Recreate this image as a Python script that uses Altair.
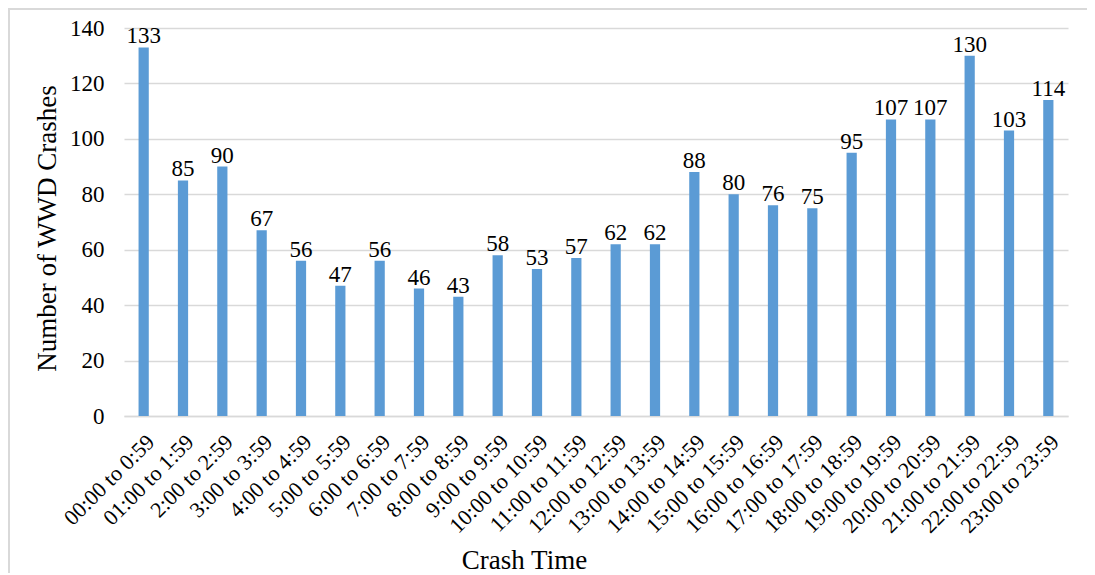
import altair as alt
import pandas as pd

categories = ["00:00 to 0:59", "01:00 to 1:59", "2:00 to 2:59", "3:00 to 3:59", "4:00 to 4:59",
              "5:00 to 5:59", "6:00 to 6:59", "7:00 to 7:59", "8:00 to 8:59", "9:00 to 9:59",
              "10:00 to 10:59", "11:00 to 11:59", "12:00 to 12:59", "13:00 to 13:59",
              "14:00 to 14:59", "15:00 to 15:59", "16:00 to 16:59", "17:00 to 17:59",
              "18:00 to 18:59", "19:00 to 19:59", "20:00 to 20:59", "21:00 to 21:59",
              "22:00 to 22:59", "23:00 to 23:59"]
values = [133, 85, 90, 67, 56, 47, 56, 46, 43, 58, 53, 57, 62, 62, 88, 80, 76, 75, 95, 107, 107, 130, 103, 114]

df = pd.DataFrame({"time": categories, "count": values})
FONT = "Liberation Serif"
W, H = 944, 388

xenc = alt.X("time:N", sort=categories,
             scale=alt.Scale(paddingInner=0.74, paddingOuter=0.37),
             axis=alt.Axis(title="Crash Time", labelAngle=-45, labelFont=FONT, labelFontSize=22,
                           labelColor="#000000", ticks=False, domainColor="#d9d9d9", domainWidth=1.5,
                           labelPadding=15, titleFont=FONT, titleFontSize=27, titleFontWeight="normal",
                           titleColor="#000000", titleX=400, titleY=152, titleBaseline="alphabetic"))
yenc = alt.Y("count:Q", scale=alt.Scale(domain=[0, 140]),
             axis=alt.Axis(title="Number of WWD Crashes", values=list(range(0, 141, 20)),
                           labelFont=FONT, labelFontSize=23, labelColor="#000000", ticks=False,
                           domain=False, gridColor="#d9d9d9", gridWidth=1.3, labelPadding=20,
                           titleFont=FONT, titleFontSize=27, titleFontWeight="normal",
                           titleColor="#000000", titleX=-63, titleY=200))

base = alt.Chart(df)
bars = base.mark_bar(color="#5B9BD5").encode(x=xenc, y=yenc)
labels = base.mark_text(font=FONT, fontSize=23, color="#000000", baseline="alphabetic", dy=-4).encode(
    x=alt.X("time:N", sort=categories), y="count:Q", text="count:Q")

one = pd.DataFrame({"k": [0]})
border_top = alt.Chart(one).mark_rule(color="#d9d9d9", strokeWidth=2).encode(
    x=alt.value(-116), x2=alt.value(W + 19), y=alt.value(-19))
border_left = alt.Chart(one).mark_rule(color="#d9d9d9", strokeWidth=2).encode(
    x=alt.value(-115), y=alt.value(-20), y2=alt.value(H + 200))

chart = alt.layer(border_top, border_left, bars, labels).properties(
    width=W, height=H,
    autosize=alt.AutoSizeParams(type="none"),
    padding={"left": 116, "top": 20, "right": 19, "bottom": 157},
).configure(background="#ffffff").configure_view(stroke="transparent")

chart.save("out.html", embed_options={"renderer": "svg", "actions": False})
